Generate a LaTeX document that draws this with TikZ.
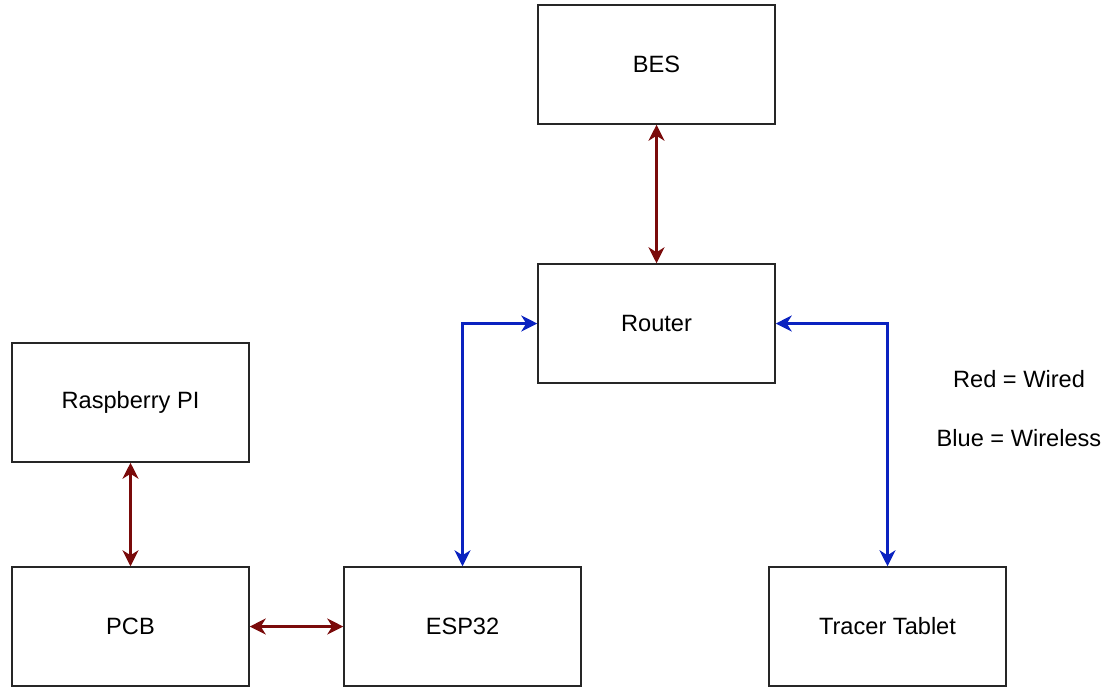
\documentclass[tikz,border=0pt]{standalone}
\usepackage{fontspec}
\setmainfont{Liberation Sans}
\usetikzlibrary{arrows.meta}
\definecolor{wiredred}{HTML}{7A0A0A}
\definecolor{wirelessblue}{HTML}{0A22C0}

\begin{document}
\begin{tikzpicture}[x=0.5pt, y=-0.5pt,
    block/.style={draw=black!85, line width=0.75pt, fill=white,
        minimum width=118.5pt, minimum height=59.5pt, font=\fontsize{11.8}{14}\selectfont},
    wired/.style={wiredred, line width=1.1pt, {Stealth[length=8pt,width=8pt,inset=2.5pt]}-{Stealth[length=8pt,width=8pt,inset=2.5pt]}},
    wireless/.style={wirelessblue, line width=1.1pt, {Stealth[length=8pt,width=8pt,inset=2.5pt]}-{Stealth[length=8pt,width=8pt,inset=2.5pt]}},
    legend/.style={font=\fontsize{11.8}{14}\selectfont}]
        \useasboundingbox (0,0) rectangle (1107,687);

        % Blocks
        \node[block] (bes) at (656.5,64.5) {BES};
        \node[block] (router) at (656.5,323.5) {Router};
        \node[block] (rpi) at (130.5,402.5) {Raspberry PI};
        \node[block] (pcb) at (130.5,626.5) {PCB};
        \node[block] (esp) at (462.5,626.5) {ESP32};
        \node[block] (tablet) at (887.5,626.5) {Tracer Tablet};

        % Wired links
        \draw[wired] (bes) -- (router);
        \draw[wired] (rpi) -- (pcb);
        \draw[wired] (pcb) -- (esp);

        % Wireless links
        \draw[wireless] (esp.north) |- (router.west);
        \draw[wireless] (router.east) -| (tablet.north);

        % Legend
        \node[legend] (lgwired) at (1019,379) {Red = Wired};
        \node[legend] (lgwireless) at (1019,438) {Blue = Wireless};
    \end{tikzpicture}
\end{document}
